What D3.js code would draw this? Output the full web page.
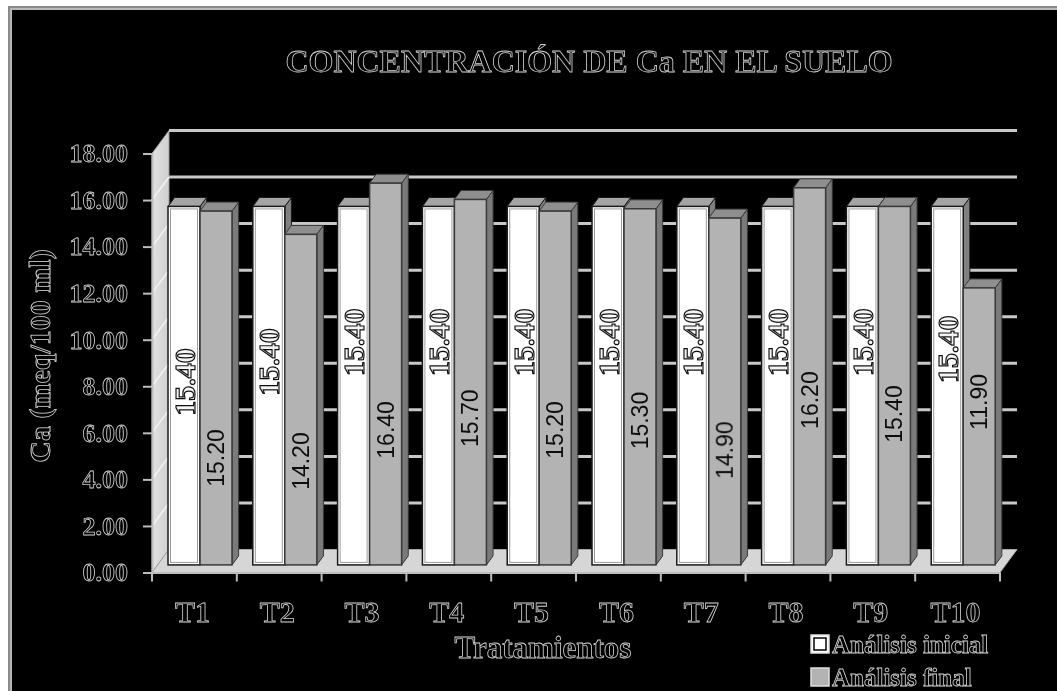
<!DOCTYPE html>
<html>
<head>
<meta charset="utf-8">
<script src="https://cdn.jsdelivr.net/npm/d3@7"></script>
<style>
  html, body { margin: 0; padding: 0; background: #fff; }
  svg { display: block; }
</style>
</head>
<body>
<svg id="chart" width="1057" height="691"></svg>
<script>
// ---- data ----
const categories = ["T1", "T2", "T3", "T4", "T5", "T6", "T7", "T8", "T9", "T10"];
const seriesNames = ["Análisis inicial", "Análisis final"];
const inicial = [15.40, 15.40, 15.40, 15.40, 15.40, 15.40, 15.40, 15.40, 15.40, 15.40];
const final = [15.20, 14.20, 16.40, 15.70, 15.20, 15.30, 14.90, 16.20, 15.40, 11.90];
const yTicks = [0, 2, 4, 6, 8, 10, 12, 14, 16, 18];

// ---- layout: heights (axis units) at which each rotated value label is centred ----
const inicialLabelAt = [7.86, 8.72, 9.57, 9.57, 9.57, 9.57, 9.57, 9.57, 9.57, 9.27];
const finalLabelAt = [4.59, 4.46, 5.80, 6.30, 5.80, 6.20, 4.93, 7.08, 6.48, 7.00];

const W = 1057, H = 691;
const svg = d3.select("#chart");

const defs = svg.append("defs");
// text is rasterised through a light filter so it renders in plain greyscale
defs.append("filter").attr("id", "soft").attr("x", "-5%").attr("y", "-5%").attr("width", "110%").attr("height", "110%")
  .append("feGaussianBlur").attr("stdDeviation", 0.25);
const wallGrad = defs.append("linearGradient").attr("id", "wallGrad").attr("x1", 0).attr("x2", 1).attr("y1", 0).attr("y2", 0);
wallGrad.append("stop").attr("offset", "0%").attr("stop-color", "#e2e2e2");
wallGrad.append("stop").attr("offset", "100%").attr("stop-color", "#cfcfcf");

// frame
svg.append("rect").attr("x", 0).attr("y", 0).attr("width", W).attr("height", H).attr("fill", "#fff");
svg.append("rect").attr("x", 8).attr("y", 6).attr("width", W).attr("height", H).attr("fill", "#8a8a8a");
svg.append("rect").attr("x", 10).attr("y", 8).attr("width", W).attr("height", H).attr("fill", "#b8b8b8");
svg.append("rect").attr("x", 12).attr("y", 10).attr("width", W).attr("height", H).attr("fill", "#000");

// ---- scales ----
const x = d3.scaleBand().domain(categories).range([152, 1000]).paddingInner(0).paddingOuter(0);
const xs = d3.scaleBand().domain(seriesNames).range([0, x.bandwidth()]).paddingInner(0).paddingOuter(0.325);
const y = d3.scaleLinear().domain([0, 18]).range([572.5, 153.5]);

// depth of the 3-D box and of the bars inside it
const D = { x: 17, y: -23 };
const f0 = 0.33, f1 = 0.72;
const bx0 = D.x * f0, by0 = D.y * f0;
const bdx = D.x * (f1 - f0), bdy = D.y * (f1 - f0);

const pts = a => a.map(p => p.join(",")).join(" ");
const x0 = x.range()[0], x1 = x.range()[1];
const yb = y(0), yt = y(18);

// side wall
svg.append("polygon")
  .attr("points", pts([[x0, yb], [x0, yt], [x0 + D.x, yt + D.y], [x0 + D.x, yb + D.y]]))
  .attr("fill", "url(#wallGrad)").attr("stroke", "#9a9a9a").attr("stroke-width", 1);

// side wall grid (diagonals)
svg.append("g").selectAll("line").data(yTicks.slice(1, -1)).join("line")
  .attr("x1", x0).attr("y1", d => y(d))
  .attr("x2", x0 + D.x).attr("y2", d => y(d) + D.y)
  .attr("stroke", "#f4f4f4").attr("stroke-width", 1.5);

// floor
svg.append("polygon")
  .attr("points", pts([[x0, yb], [x1, yb], [x1 + D.x, yb + D.y], [x0 + D.x, yb + D.y]]))
  .attr("fill", "#d6d6d6").attr("stroke", "#a8a8a8").attr("stroke-width", 1);

// back-wall gridlines
svg.append("g").selectAll("line").data(yTicks.slice(1)).join("line")
  .attr("x1", x0 + D.x).attr("x2", x1 + D.x)
  .attr("y1", d => y(d) + D.y).attr("y2", d => y(d) + D.y)
  .attr("stroke", "#c8c8c8").attr("stroke-width", 3);

// ---- bars ----
const styles = {
  "Análisis inicial": { front: "#ffffff", side: "#808080", top: "#a4a4a4", stroke: "#1a1a1a", inner: "#9a9a9a" },
  "Análisis final":   { front: "#b3b3b3", side: "#7a7a7a", top: "#8e8e8e", stroke: "#3a3a3a", inner: null }
};

const barsG = svg.append("g");
categories.forEach((c, i) => {
  [[seriesNames[0], inicial[i]], [seriesNames[1], final[i]]].forEach(([s, v]) => {
    const st = styles[s];
    const L = x(c) + xs(s) + bx0, R = L + xs.bandwidth();
    const T = y(v) + by0, B = y(0) + by0;
    const g = barsG.append("g");
    g.append("polygon").attr("points", pts([[R, T], [R + bdx, T + bdy], [R + bdx, B + bdy], [R, B]]))
      .attr("fill", st.side).attr("stroke", st.stroke).attr("stroke-width", 1);
    g.append("polygon").attr("points", pts([[L, T], [L + bdx, T + bdy], [R + bdx, T + bdy], [R, T]]))
      .attr("fill", st.top).attr("stroke", st.stroke).attr("stroke-width", 1);
    g.append("rect").attr("x", L).attr("y", T).attr("width", R - L).attr("height", B - T)
      .attr("fill", st.front).attr("stroke", st.stroke).attr("stroke-width", 1.5);
    if (st.inner) {
      g.append("rect").attr("x", L + 2.5).attr("y", T + 2.5).attr("width", R - L - 5).attr("height", B - T - 5)
        .attr("fill", "none").attr("stroke", st.inner).attr("stroke-width", 1);
    }
  });
});

// hollow (outlined) serif text
function emb(sel, size) {
  return sel.attr("font-family", "'Liberation Serif', 'DejaVu Serif', serif")
    .attr("font-weight", "bold").attr("font-size", size)
    .attr("fill", "#000").attr("stroke", "#d4d4d4").attr("stroke-width", 0.8);
}

// ---- value labels ----
const lblG = svg.append("g").attr("filter", "url(#soft)");
categories.forEach((c, i) => {
  const cx1 = x(c) + xs(seriesNames[0]) + bx0 + xs.bandwidth() / 2;
  const cy1 = y(inicialLabelAt[i]) + by0;
  emb(lblG.append("text"), 30)
    .attr("transform", `translate(${cx1},${cy1}) rotate(-90)`)
    .attr("text-anchor", "middle").attr("dominant-baseline", "central")
    .attr("stroke", "#111").attr("stroke-width", 1.2).attr("fill", "#f4f4f4")
    .text(d3.format(".2f")(inicial[i]));

  const cx2 = x(c) + xs(seriesNames[1]) + bx0 + xs.bandwidth() / 2;
  const cy2 = y(finalLabelAt[i]) + by0;
  lblG.append("text")
    .attr("transform", `translate(${cx2},${cy2}) rotate(-90)`)
    .attr("text-anchor", "middle").attr("dominant-baseline", "central")
    .attr("font-family", "'Liberation Sans', Arial, sans-serif").attr("font-size", 23)
    .attr("fill", "#111")
    .text(d3.format(".2f")(final[i]));
});

// ---- axes ----
const yAxis = svg.append("g").attr("transform", `translate(${x0},0)`)
  .call(d3.axisLeft(y).tickValues(yTicks).tickSize(9).tickPadding(15).tickFormat(d3.format(".2f")));
yAxis.select(".domain").attr("stroke", "#bdbdbd").attr("stroke-width", 2);
yAxis.selectAll(".tick line").attr("stroke", "#bdbdbd").attr("stroke-width", 2);
yAxis.selectAll(".tick").attr("filter", "url(#soft)");
emb(yAxis.selectAll(".tick text"), 26);

const xAxis = svg.append("g").attr("transform", `translate(0,${yb})`)
  .call(d3.axisBottom(x).tickSize(0).tickPadding(28));
xAxis.select(".domain").attr("stroke", "#bdbdbd").attr("stroke-width", 2);
xAxis.selectAll(".tick").attr("filter", "url(#soft)");
emb(xAxis.selectAll(".tick text"), 30).attr("dx", -2);
// category boundary ticks
xAxis.append("g").selectAll("line").data(categories.map(c => x(c)).concat([x1])).join("line")
  .attr("x1", d => d).attr("x2", d => d).attr("y1", 0).attr("y2", 9)
  .attr("stroke", "#bdbdbd").attr("stroke-width", 2);

// ---- titles ----
const titles = svg.append("g").attr("filter", "url(#soft)");
emb(titles.append("text"), 32).attr("x", 589).attr("y", 72).attr("text-anchor", "middle")
  .text("CONCENTRACIÓN DE Ca EN EL SUELO");
emb(titles.append("text"), 31).attr("x", 543).attr("y", 658).attr("text-anchor", "middle")
  .text("Tratamientos");
emb(titles.append("text"), 30).attr("transform", "translate(50,356) rotate(-90)").attr("text-anchor", "middle")
  .text("Ca (meq/100 ml)");

// ---- legend ----
const legend = svg.append("g").attr("filter", "url(#soft)");
seriesNames.forEach((s, i) => {
  const ly = 634 + i * 33;
  legend.append("rect").attr("x", 811).attr("y", ly + 1).attr("width", 18).attr("height", 18)
    .attr("fill", styles[s].front).attr("stroke", "#e0e0e0").attr("stroke-width", 1.5);
  if (i === 0) legend.append("rect").attr("x", 814).attr("y", ly + 4).attr("width", 12).attr("height", 12)
    .attr("fill", "none").attr("stroke", "#000").attr("stroke-width", 1.5);
  emb(legend.append("text"), 25).attr("x", 832).attr("y", ly + 19).text(s);
});
</script>
</body>
</html>
